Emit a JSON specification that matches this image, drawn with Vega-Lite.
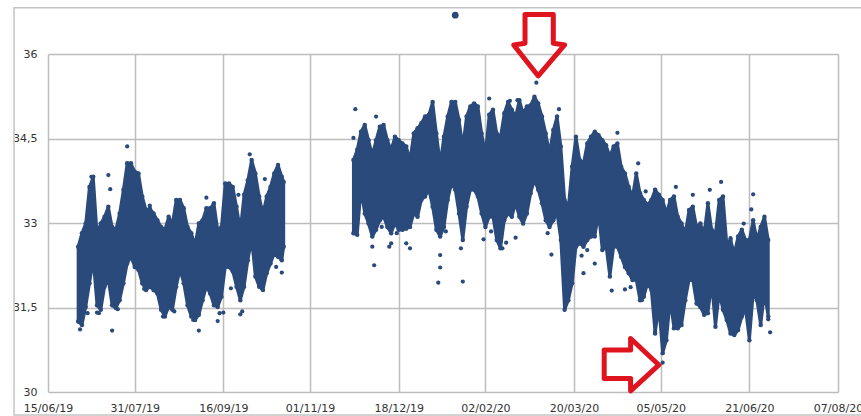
{"$schema":"https://vega.github.io/schema/vega-lite/v6.json","width":790,"height":338,"autosize":{"type":"none"},"padding":{"left":48,"top":54,"right":23,"bottom":24},"background":"white","config":{"view":{"stroke":null},"font":"DejaVu Sans"},
"datasets":{
"env":[
{"c":"a","d":"2019-07-01","lo":31.25,"hi":32.58},{"c":"a","d":"2019-07-03","lo":31.19,"hi":32.82},{"c":"a","d":"2019-07-05","lo":31.51,"hi":32.99},{"c":"a","d":"2019-07-07","lo":31.93,"hi":33.64},{"c":"a","d":"2019-07-09","lo":32.34,"hi":33.82},{"c":"a","d":"2019-07-11","lo":31.54,"hi":32.82},{"c":"a","d":"2019-07-13","lo":31.46,"hi":32.99},{"c":"a","d":"2019-07-15","lo":31.87,"hi":33.11},{"c":"a","d":"2019-07-17","lo":31.99,"hi":33.29},{"c":"a","d":"2019-07-19","lo":31.54,"hi":32.93},{"c":"a","d":"2019-07-21","lo":31.49,"hi":32.88},{"c":"a","d":"2019-07-23","lo":31.63,"hi":33.17},{"c":"a","d":"2019-07-25","lo":31.93,"hi":33.59},{"c":"a","d":"2019-07-27","lo":32.28,"hi":34.06},{"c":"a","d":"2019-07-29","lo":32.40,"hi":34.06},{"c":"a","d":"2019-07-31","lo":32.22,"hi":33.91},{"c":"a","d":"2019-08-02","lo":32.17,"hi":33.88},{"c":"a","d":"2019-08-04","lo":31.93,"hi":33.47},{"c":"a","d":"2019-08-06","lo":31.81,"hi":33.23},{"c":"a","d":"2019-08-08","lo":31.87,"hi":33.26},{"c":"a","d":"2019-08-10","lo":31.81,"hi":33.17},{"c":"a","d":"2019-08-12","lo":31.75,"hi":33.05},{"c":"a","d":"2019-08-14","lo":31.46,"hi":32.93},{"c":"a","d":"2019-08-16","lo":31.34,"hi":32.88},{"c":"a","d":"2019-08-18","lo":31.51,"hi":33.11},{"c":"a","d":"2019-08-20","lo":31.46,"hi":32.99},{"c":"a","d":"2019-08-22","lo":31.87,"hi":33.41},{"c":"a","d":"2019-08-24","lo":32.17,"hi":33.41},{"c":"a","d":"2019-08-26","lo":31.93,"hi":33.26},{"c":"a","d":"2019-08-28","lo":31.54,"hi":32.93},{"c":"a","d":"2019-08-30","lo":31.34,"hi":32.82},{"c":"a","d":"2019-09-01","lo":31.28,"hi":32.61},{"c":"a","d":"2019-09-03","lo":31.37,"hi":32.99},{"c":"a","d":"2019-09-05","lo":31.63,"hi":33.05},{"c":"a","d":"2019-09-07","lo":31.87,"hi":33.26},{"c":"a","d":"2019-09-09","lo":31.75,"hi":33.26},{"c":"a","d":"2019-09-11","lo":31.54,"hi":33.35},{"c":"a","d":"2019-09-13","lo":31.51,"hi":32.88},{"c":"a","d":"2019-09-15","lo":31.69,"hi":32.93},{"c":"a","d":"2019-09-17","lo":32.22,"hi":33.70},{"c":"a","d":"2019-09-19","lo":32.22,"hi":33.70},{"c":"a","d":"2019-09-21","lo":32.14,"hi":33.64},{"c":"a","d":"2019-09-23","lo":31.87,"hi":33.29},{"c":"a","d":"2019-09-25","lo":31.63,"hi":32.88},{"c":"a","d":"2019-09-27","lo":31.87,"hi":33.50},{"c":"a","d":"2019-09-29","lo":32.34,"hi":33.76},{"c":"a","d":"2019-10-01","lo":32.70,"hi":34.12},{"c":"a","d":"2019-10-03","lo":32.05,"hi":33.88},{"c":"a","d":"2019-10-05","lo":31.87,"hi":33.47},{"c":"a","d":"2019-10-07","lo":31.81,"hi":33.17},{"c":"a","d":"2019-10-09","lo":32.11,"hi":33.47},{"c":"a","d":"2019-10-11","lo":32.28,"hi":33.64},{"c":"a","d":"2019-10-13","lo":32.46,"hi":33.88},{"c":"a","d":"2019-10-15","lo":32.40,"hi":34.03},{"c":"a","d":"2019-10-17","lo":32.34,"hi":33.82},{"c":"a","d":"2019-10-18","lo":32.58,"hi":33.73},
{"c":"b","d":"2019-11-24","lo":32.82,"hi":34.12},{"c":"b","d":"2019-11-26","lo":32.79,"hi":34.30},{"c":"b","d":"2019-11-28","lo":33.59,"hi":34.62},{"c":"b","d":"2019-11-30","lo":33.17,"hi":34.74},{"c":"b","d":"2019-12-02","lo":32.99,"hi":34.47},{"c":"b","d":"2019-12-04","lo":32.76,"hi":34.21},{"c":"b","d":"2019-12-06","lo":32.88,"hi":34.47},{"c":"b","d":"2019-12-08","lo":33.05,"hi":34.71},{"c":"b","d":"2019-12-10","lo":33.11,"hi":34.74},{"c":"b","d":"2019-12-12","lo":32.93,"hi":34.47},{"c":"b","d":"2019-12-14","lo":32.82,"hi":34.30},{"c":"b","d":"2019-12-16","lo":32.99,"hi":34.53},{"c":"b","d":"2019-12-18","lo":32.88,"hi":34.47},{"c":"b","d":"2019-12-20","lo":32.88,"hi":34.41},{"c":"b","d":"2019-12-22","lo":32.90,"hi":34.36},{"c":"b","d":"2019-12-24","lo":32.93,"hi":34.12},{"c":"b","d":"2019-12-26","lo":33.17,"hi":34.59},{"c":"b","d":"2019-12-28","lo":33.11,"hi":34.68},{"c":"b","d":"2019-12-30","lo":33.41,"hi":34.77},{"c":"b","d":"2020-01-01","lo":33.47,"hi":34.89},{"c":"b","d":"2020-01-03","lo":33.59,"hi":34.92},{"c":"b","d":"2020-01-05","lo":33.29,"hi":35.15},{"c":"b","d":"2020-01-07","lo":32.88,"hi":34.59},{"c":"b","d":"2020-01-09","lo":32.76,"hi":34.06},{"c":"b","d":"2020-01-11","lo":32.93,"hi":34.53},{"c":"b","d":"2020-01-13","lo":33.41,"hi":34.89},{"c":"b","d":"2020-01-15","lo":33.70,"hi":35.15},{"c":"b","d":"2020-01-17","lo":33.59,"hi":35.15},{"c":"b","d":"2020-01-19","lo":33.17,"hi":34.83},{"c":"b","d":"2020-01-21","lo":32.70,"hi":34.36},{"c":"b","d":"2020-01-23","lo":33.29,"hi":34.89},{"c":"b","d":"2020-01-25","lo":33.59,"hi":35.07},{"c":"b","d":"2020-01-27","lo":33.59,"hi":35.12},{"c":"b","d":"2020-01-29","lo":33.47,"hi":35.07},{"c":"b","d":"2020-01-31","lo":33.17,"hi":34.59},{"c":"b","d":"2020-02-02","lo":32.93,"hi":34.24},{"c":"b","d":"2020-02-04","lo":33.11,"hi":34.92},{"c":"b","d":"2020-02-06","lo":33.11,"hi":35.01},{"c":"b","d":"2020-02-08","lo":32.70,"hi":34.59},{"c":"b","d":"2020-02-10","lo":32.55,"hi":34.53},{"c":"b","d":"2020-02-12","lo":33.05,"hi":34.95},{"c":"b","d":"2020-02-14","lo":33.17,"hi":35.15},{"c":"b","d":"2020-02-16","lo":33.11,"hi":35.01},{"c":"b","d":"2020-02-18","lo":33.35,"hi":34.89},{"c":"b","d":"2020-02-20","lo":33.11,"hi":35.18},{"c":"b","d":"2020-02-22","lo":32.99,"hi":34.95},{"c":"b","d":"2020-02-24","lo":33.17,"hi":35.07},{"c":"b","d":"2020-02-26","lo":33.53,"hi":35.09},{"c":"b","d":"2020-02-28","lo":33.76,"hi":35.24},{"c":"b","d":"2020-03-01","lo":33.59,"hi":35.12},{"c":"b","d":"2020-03-03","lo":33.35,"hi":34.89},{"c":"b","d":"2020-03-05","lo":33.05,"hi":34.59},{"c":"b","d":"2020-03-07","lo":32.93,"hi":34.24},{"c":"b","d":"2020-03-09","lo":33.05,"hi":34.65},{"c":"b","d":"2020-03-11","lo":33.17,"hi":34.89},{"c":"b","d":"2020-03-13","lo":32.70,"hi":34.36},{"c":"b","d":"2020-03-15","lo":31.46,"hi":33.41},{"c":"b","d":"2020-03-17","lo":31.63,"hi":33.29},{"c":"b","d":"2020-03-19","lo":31.93,"hi":34.00},{"c":"b","d":"2020-03-21","lo":32.58,"hi":34.53},{"c":"b","d":"2020-03-23","lo":32.64,"hi":34.12},{"c":"b","d":"2020-03-25","lo":32.58,"hi":34.06},{"c":"b","d":"2020-03-27","lo":32.70,"hi":34.41},{"c":"b","d":"2020-03-29","lo":32.76,"hi":34.53},{"c":"b","d":"2020-03-31","lo":32.76,"hi":34.62},{"c":"b","d":"2020-04-02","lo":33.17,"hi":34.56},{"c":"b","d":"2020-04-04","lo":32.52,"hi":34.47},{"c":"b","d":"2020-04-06","lo":32.58,"hi":34.38},{"c":"b","d":"2020-04-08","lo":32.05,"hi":34.18},{"c":"b","d":"2020-04-10","lo":32.58,"hi":34.36},{"c":"b","d":"2020-04-12","lo":32.58,"hi":34.41},{"c":"b","d":"2020-04-14","lo":32.40,"hi":34.00},{"c":"b","d":"2020-04-16","lo":32.22,"hi":33.88},{"c":"b","d":"2020-04-18","lo":32.11,"hi":33.64},{"c":"b","d":"2020-04-20","lo":31.99,"hi":33.47},{"c":"b","d":"2020-04-22","lo":31.99,"hi":33.88},{"c":"b","d":"2020-04-24","lo":31.63,"hi":33.53},{"c":"b","d":"2020-04-26","lo":31.69,"hi":33.41},{"c":"b","d":"2020-04-28","lo":31.93,"hi":33.32},{"c":"b","d":"2020-04-30","lo":31.81,"hi":33.41},{"c":"b","d":"2020-05-02","lo":31.04,"hi":33.59},{"c":"b","d":"2020-05-04","lo":31.51,"hi":33.50},{"c":"b","d":"2020-05-06","lo":30.69,"hi":33.41},{"c":"b","d":"2020-05-08","lo":30.92,"hi":33.17},{"c":"b","d":"2020-05-10","lo":31.63,"hi":33.41},{"c":"b","d":"2020-05-12","lo":31.13,"hi":33.47},{"c":"b","d":"2020-05-14","lo":31.13,"hi":33.11},{"c":"b","d":"2020-05-16","lo":31.19,"hi":32.99},{"c":"b","d":"2020-05-18","lo":31.63,"hi":32.82},{"c":"b","d":"2020-05-20","lo":31.99,"hi":33.23},{"c":"b","d":"2020-05-22","lo":31.99,"hi":33.29},{"c":"b","d":"2020-05-24","lo":31.57,"hi":32.93},{"c":"b","d":"2020-05-26","lo":31.51,"hi":32.99},{"c":"b","d":"2020-05-28","lo":31.37,"hi":32.82},{"c":"b","d":"2020-05-30","lo":31.40,"hi":33.35},{"c":"b","d":"2020-06-01","lo":31.93,"hi":32.88},{"c":"b","d":"2020-06-03","lo":31.16,"hi":32.82},{"c":"b","d":"2020-06-05","lo":31.75,"hi":33.41},{"c":"b","d":"2020-06-07","lo":31.46,"hi":33.47},{"c":"b","d":"2020-06-09","lo":31.28,"hi":32.64},{"c":"b","d":"2020-06-11","lo":31.04,"hi":32.70},{"c":"b","d":"2020-06-13","lo":31.01,"hi":32.46},{"c":"b","d":"2020-06-15","lo":31.10,"hi":32.76},{"c":"b","d":"2020-06-17","lo":31.34,"hi":32.88},{"c":"b","d":"2020-06-19","lo":31.46,"hi":32.70},{"c":"b","d":"2020-06-21","lo":30.92,"hi":32.70},{"c":"b","d":"2020-06-23","lo":31.75,"hi":33.05},{"c":"b","d":"2020-06-25","lo":31.63,"hi":32.70},{"c":"b","d":"2020-06-27","lo":31.19,"hi":32.93},{"c":"b","d":"2020-06-29","lo":31.75,"hi":33.11},{"c":"b","d":"2020-07-01","lo":31.34,"hi":32.70}],
"out":[
{"d":"2019-07-02","v":31.11},{"d":"2019-07-06","v":31.40},{"d":"2019-07-11","v":31.41},{"d":"2019-07-12","v":31.40},{"d":"2019-07-19","v":31.09},{"d":"2019-07-22","v":31.47},{"d":"2019-07-17","v":33.85},{"d":"2019-07-18","v":33.60},{"d":"2019-07-08","v":33.82},{"d":"2019-07-27","v":34.36},{"d":"2019-08-05","v":31.83},{"d":"2019-08-11","v":31.81},{"d":"2019-08-15","v":31.34},{"d":"2019-08-16","v":31.37},{"d":"2019-08-21","v":31.43},{"d":"2019-09-03","v":31.09},{"d":"2019-08-31","v":31.28},{"d":"2019-09-02","v":31.37},{"d":"2019-09-13","v":31.26},{"d":"2019-09-14","v":31.40},{"d":"2019-09-16","v":31.41},{"d":"2019-09-20","v":31.84},{"d":"2019-09-25","v":31.38},{"d":"2019-09-26","v":31.43},{"d":"2019-09-30","v":34.22},{"d":"2019-10-08","v":33.78},{"d":"2019-10-14","v":32.22},{"d":"2019-10-17","v":32.12},{"d":"2019-09-07","v":33.45},{"d":"2019-08-08","v":33.31},{"d":"2019-09-24","v":33.50},
{"d":"2019-11-25","v":35.02},{"d":"2019-11-24","v":34.51},{"d":"2019-12-05","v":32.25},{"d":"2019-12-04","v":32.58},{"d":"2019-12-09","v":32.93},{"d":"2019-12-13","v":32.58},{"d":"2019-12-14","v":32.64},{"d":"2019-12-17","v":32.82},{"d":"2019-12-22","v":32.64},{"d":"2019-12-24","v":32.55},{"d":"2019-12-06","v":34.89},{"d":"2020-01-08","v":31.94},{"d":"2020-01-09","v":32.21},{"d":"2020-01-09","v":32.43},{"d":"2020-01-12","v":32.85},{"d":"2020-01-20","v":32.55},{"d":"2020-01-21","v":31.96},{"d":"2020-02-01","v":32.71},{"d":"2020-02-04","v":35.21},{"d":"2020-02-05","v":32.85},{"d":"2020-02-11","v":32.55},{"d":"2020-02-13","v":32.65},{"d":"2020-02-18","v":32.74},{"d":"2020-02-15","v":35.17},{"d":"2020-02-19","v":35.18},{"d":"2020-02-29","v":35.49},{"d":"2020-03-12","v":35.02},{"d":"2020-03-08","v":32.44},{"d":"2020-03-06","v":32.82},{"d":"2020-03-24","v":32.42},{"d":"2020-03-25","v":32.11},{"d":"2020-03-27","v":32.52},{"d":"2020-03-31","v":32.28},{"d":"2020-04-12","v":34.60},{"d":"2020-04-09","v":31.80},{"d":"2020-04-16","v":31.82},{"d":"2020-04-19","v":31.86},{"d":"2020-04-23","v":34.06},{"d":"2020-04-25","v":31.63},{"d":"2020-04-27","v":33.56},{"d":"2020-05-02","v":33.59},{"d":"2020-05-02","v":31.07},{"d":"2020-05-13","v":33.64},{"d":"2020-05-22","v":33.50},{"d":"2020-05-31","v":33.59},{"d":"2020-06-06","v":33.73},{"d":"2020-06-23","v":33.51},{"d":"2020-06-22","v":33.24},{"d":"2020-06-18","v":32.99},{"d":"2020-06-11","v":32.73},{"d":"2020-07-01","v":31.29},{"d":"2020-07-02","v":31.06},{"d":"2020-05-06","v":30.52}],
"top":[{"d":"2020-01-17","v":36.69}],
"arrows":[
{"a":"down","s":1,"d":"2020-02-23","v":36.70},{"a":"down","s":2,"d":"2020-03-09","v":36.70},{"a":"down","s":3,"d":"2020-03-09","v":36.19},{"a":"down","s":4,"d":"2020-03-15","v":36.16},{"a":"down","s":5,"d":"2020-03-01","v":35.61},{"a":"down","s":6,"d":"2020-02-17","v":36.16},{"a":"down","s":7,"d":"2020-02-23","v":36.19},{"a":"down","s":8,"d":"2020-02-23","v":36.70},
{"a":"right","s":1,"d":"2020-04-05","v":30.745},{"a":"right","s":2,"d":"2020-04-19","v":30.745},{"a":"right","s":3,"d":"2020-04-19","v":30.95},{"a":"right","s":4,"d":"2020-05-04","v":30.48},{"a":"right","s":5,"d":"2020-04-19","v":30.02},{"a":"right","s":6,"d":"2020-04-19","v":30.24},{"a":"right","s":7,"d":"2020-04-05","v":30.24},{"a":"right","s":8,"d":"2020-04-05","v":30.745}],
"frame":[{"d":"2019-05-28","d2":"2020-09-15","v":29.59,"v2":36.82}]
},
"layer":[
{"data":{"name":"frame"},"mark":{"type":"rect","fill":null,"fillOpacity":0,"stroke":"#c4c4c4","strokeWidth":1.5},
"encoding":{"x":{"field":"d","type":"temporal","scale":{"type":"utc","domain":["2019-06-15","2020-08-07"]},"title":null,
"axis":{"values":["2019-06-15","2019-07-31","2019-09-16","2019-11-01","2019-12-18","2020-02-02","2020-03-20","2020-05-05","2020-06-21","2020-08-07"],"format":"%d/%m/%y","grid":true,"gridColor":"#bdbdbd","gridWidth":1.5,"domain":false,"ticks":false,"labelFontSize":11,"labelColor":"#333333","labelPadding":16,"labelFlush":false,"labelOverlap":false,"labelBaseline":"middle"}},
"x2":{"field":"d2"},
"y":{"field":"v","type":"quantitative","scale":{"domain":[30,36],"nice":false,"zero":false},"title":null,
"axis":{"values":[30,31.5,33,34.5,36],"labelExpr":"replace(format(datum.value,'.1~f'),'.',',')","grid":true,"gridColor":"#bdbdbd","gridWidth":1.5,"domain":false,"ticks":false,"labelFontSize":11,"labelColor":"#333333","labelPadding":11}},
"y2":{"field":"v2"}}},
{"data":{"name":"env"},"mark":{"type":"area","color":"#2a4a7b","stroke":"#2a4a7b","strokeWidth":3,"strokeJoin":"round","opacity":1},"encoding":{"x":{"field":"d","type":"temporal"},"y":{"field":"lo","type":"quantitative"},"y2":{"field":"hi"},"detail":{"field":"c"}}},
{"data":{"name":"env"},"mark":{"type":"point","filled":true,"opacity":1,"color":"#2a4a7b","size":20},"encoding":{"x":{"field":"d","type":"temporal"},"y":{"field":"hi","type":"quantitative"}}},
{"data":{"name":"env"},"mark":{"type":"point","filled":true,"opacity":1,"color":"#2a4a7b","size":20},"encoding":{"x":{"field":"d","type":"temporal"},"y":{"field":"lo","type":"quantitative"}}},
{"data":{"name":"out"},"mark":{"type":"point","filled":true,"opacity":1,"color":"#2a4a7b","size":18},"encoding":{"x":{"field":"d","type":"temporal"},"y":{"field":"v","type":"quantitative"}}},
{"data":{"name":"top"},"mark":{"type":"point","filled":true,"opacity":1,"color":"#2a4a7b","size":45},"encoding":{"x":{"field":"d","type":"temporal"},"y":{"field":"v","type":"quantitative"}}},
{"data":{"name":"arrows"},"mark":{"type":"line","color":"#e0141e","strokeWidth":5,"strokeJoin":"round","strokeCap":"round"},"encoding":{"x":{"field":"d","type":"temporal"},"y":{"field":"v","type":"quantitative"},"detail":{"field":"a"},"order":{"field":"s","type":"quantitative"}}}
]}
